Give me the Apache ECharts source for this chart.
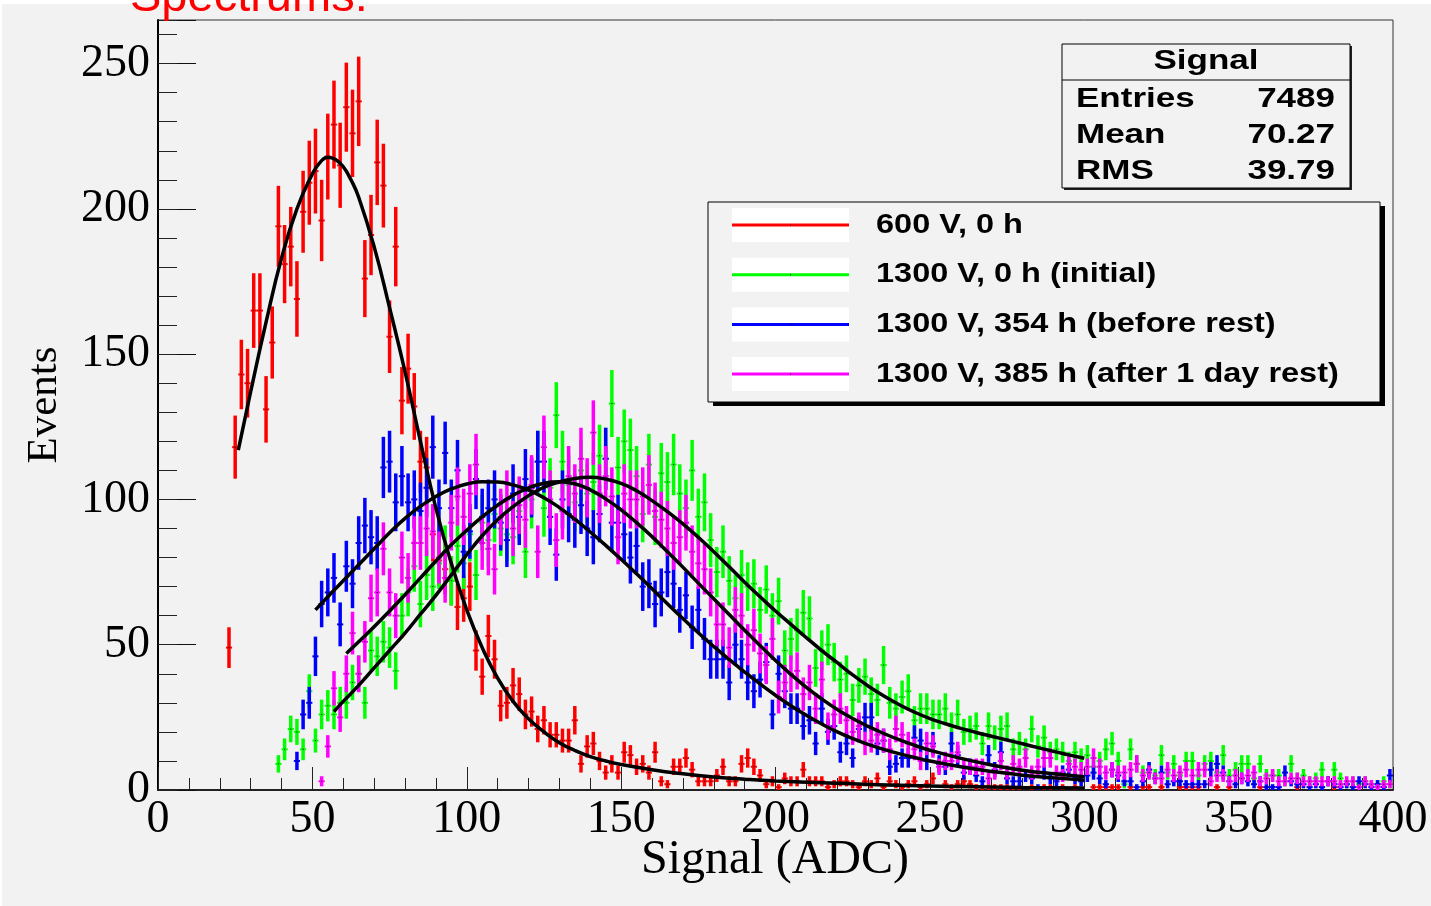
<!DOCTYPE html>
<html>
<head>
<meta charset="utf-8">
<script src="https://cdn.jsdelivr.net/npm/echarts@6/dist/echarts.min.js"></script>
<style>
html, body { margin: 0; padding: 0; background: #fff; }
#chart { width: 1431px; height: 906px; }
</style>
</head>
<body>
<div id="chart"></div>
<script>
// histogram bins: 2 ADC wide, centres at odd values, first centre given per series
var binWidth = 2;

var redStart = 23;
var redCounts = [49,118,143,140,165,165,131,154,194,181,187,169,199,209,213,196,218,229,215,235,226,237,176,191,216,208,156,187,134,145,
  132,113,111,88,79,76,72,63,66,70,48,39,53,45,29,30,36,33,26,27,21,24,19,19,17,17,24,9,15,16,
  10,6,9,6,13,12,8,9,6,13,3,2,8,8,11,7,3,3,3,5,8,3,3,9,11,8,5,2,3,1,
  4,3,3,7,3,3,3,1,2,3,3,2,1,3,2,4,1,3,2,1,2,3,1,2,4,0,2,1,2,3,
  2,1,1,1,1,1,1,1,1,0,1,0,1,1,0,1,0,1,0,0,1,1,1,1,1,0,1,0,1,1,
  0,1,0,0,1,1,1,1,0,0,1,0,1,0,0,0,0,1,0,0,0,0,0,1,0,0,0,0,0,1];

var greenStart = 39;
var greenCounts = [9,14,21,20,14,34,17,26,29,26,30,30,37,40,30,48,46,51,49,41,60,68,77,64,74,70,78,82,72,84,
  78,88,74,92,86,95,90,88,87,96,82,100,113,97,104,129,113,105,99,110,102,106,115,114,133,111,120,117,108,95,
  112,94,109,106,112,102,97,110,94,99,86,75,82,72,66,74,70,71,62,69,60,65,48,52,55,61,59,42,48,50,
  44,38,40,31,36,39,33,31,43,30,28,32,34,24,28,28,26,26,28,22,26,20,21,22,16,22,18,21,22,14,
  16,14,21,15,18,13,14,13,10,13,11,12,8,10,14,16,10,2,14,9,6,7,5,12,6,9,5,10,10,5,
  9,10,6,12,5,7,9,9,4,9,5,5,5,3,9,4,5,3,4,7,3,7,4,2,3,2,3,2,2,3,2];

var blueStart = 45;
var blueCounts = [10,26,30,46,64,68,73,57,77,71,85,91,87,85,111,113,99,108,99,100,96,104,118,97,116,97,110,82,89,107,
  94,97,100,92,86,102,94,107,104,113,113,94,81,100,95,93,98,90,87,95,114,92,92,88,80,84,70,71,64,68,
  75,71,62,67,56,62,52,45,45,45,37,50,45,37,34,38,44,26,40,34,28,28,22,24,16,28,20,22,13,16,
  11,21,25,25,16,17,8,9,11,11,18,17,10,16,9,8,16,12,6,8,5,3,12,7,13,4,3,3,5,4,
  1,6,4,3,6,7,4,3,5,6,4,2,7,5,3,3,1,3,7,4,6,2,3,3,2,2,2,2,7,9,
  6,3,2,4,3,2,3,1,1,1,6,3,2,2,1,2,1,3,2,1,2,1,3,2,1,2,1,5];

var magentaStart = 53;
var magentaCounts = [3,15,35,25,40,54,40,51,66,68,83,68,60,80,73,85,85,90,89,80,73,92,101,94,102,112,85,83,76,94,
  100,90,98,93,105,82,118,100,86,96,108,102,114,104,123,102,108,101,87,102,100,100,101,105,96,93,90,85,87,92,
  82,78,76,68,57,57,49,62,60,50,55,47,43,52,32,37,40,41,33,37,28,38,22,26,28,24,20,22,16,17,
  19,17,14,21,19,16,14,10,16,15,8,10,10,13,8,8,8,8,4,6,10,6,9,8,11,6,8,11,11,6,
  5,9,8,7,8,11,8,6,7,6,6,7,9,5,6,4,4,7,5,6,7,5,7,7,3,5,5,3,5,4,
  5,6,3,4,5,3,3,4,4,3,3,3,3,3,3,2,3,3,1,3,2,1,2,2];

// fitted curves as [signal, events]
var fitRed = [[26,117],[30,137],[35,161],[40,183],[45,200],[50,212],[52.5,216],[55,217.8],[57.5,217],[60,214.5],[62.5,210],
  [65,204],[70,187],[75,166],[80,144],[85,120],[90,97],[95,78],[100,62],[105,49],[110,38.5],[115,30.5],[120,24.5],
  [125,20],[130,16.3],[135,13.6],[140,11.5],[145,10],[150,8.8],[160,7],[170,5.6],[180,4.5],[190,3.7],[200,3.1],
  [220,2.3],[240,1.6],[260,1.2],[280,0.9],[300,0.7]];
var fitGreen = [[57,27],[60,30.5],[65,36],[70,42],[75,48],[80,54],[85,60.5],[90,67],[95,74],[100,81],[105,87.5],[110,93],
  [115,97.5],[120,101.3],[125,104.2],[130,106],[135,107.2],[140,107.6],[145,107],[150,105.5],[155,103],[160,99.6],
  [165,95.8],[170,91.6],[175,87],[180,82],[185,76.8],[190,71.5],[195,66.5],[200,61.6],[205,57],[210,52.4],[215,48],
  [220,43.8],[225,39.6],[230,35.8],[235,32.4],[240,29.4],[245,26.8],[250,24.6],[255,22.8],[260,21.2],[265,19.8],
  [270,18.5],[275,17.2],[280,15.9],[285,14.6],[290,13.3],[295,12.1],[300,10.9]];
var fitBlue = [[51,62],[55,66.5],[60,72],[65,77.5],[70,83],[75,88.5],[80,93.5],[85,97.6],[90,101],[95,103.6],[100,105.3],
  [105,106.1],[110,106],[115,105],[120,103.2],[125,100.6],[130,97.2],[135,93.2],[140,88.8],[145,84.2],[150,79.4],
  [155,74.4],[160,69.3],[165,64.1],[170,59],[175,54.1],[180,49.4],[185,44.9],[190,40.6],[195,36.5],[200,32.6],
  [205,29],[210,25.7],[215,22.7],[220,20],[225,17.7],[230,15.7],[235,14],[240,12.5],[245,11.2],[250,10],[260,8],
  [270,6.4],[280,5.1],[290,4.2],[300,3.4]];
var fitMagenta = [[61,47],[65,51],[70,56.2],[75,61.6],[80,67.2],[85,73],[90,78.8],[95,84.4],[100,89.4],[105,94],[110,98],
  [115,101.4],[120,104],[125,105.6],[130,106.1],[135,105.4],[140,103.3],[145,100.2],[150,96.4],[155,92],[160,87.2],
  [165,82],[170,76.7],[175,71.2],[180,65.8],[185,60.4],[190,55],[195,49.7],[200,44.6],[205,39.8],[210,35.3],
  [215,31.3],[220,27.7],[225,24.6],[230,21.9],[235,19.5],[240,17.3],[245,15.4],[250,13.7],[260,10.9],[270,8.6],
  [280,6.8],[290,5.6],[300,4.6]];

var legendNames = ['600 V, 0 h', '1300 V, 0 h (initial)', '1300 V, 354 h (before rest)', '1300 V, 385 h (after 1 day rest)'];
var statTitle = 'Signal';
var statLabels = ['Entries', 'Mean', 'RMS'];
var statValues = ['7489', '70.27', '39.79'];

var colors = ['#ff0000', '#00ff00', '#0000ff', '#ff00ff'];
var bg = '#f2f2f2';

function toPoints(start, counts) {
  var pts = [];
  for (var i = 0; i < counts.length; i++) {
    if (counts[i] > 0) pts.push([start + i * binWidth, counts[i]]);
  }
  return pts;
}

// ROOT style error bars: sqrt(N) vertically, bin width horizontally, tiny black marker
function histRenderer(color) {
  return function(params, api) {
    var x = api.value(0), n = api.value(1);
    var e = Math.sqrt(n);
    var c = api.coord([x, n]);
    var top = api.coord([x, n + e]);
    var bot = api.coord([x, Math.max(n - e, 0)]);
    var half = api.size([binWidth, 0])[0] / 2;
    return {
      type: 'group',
      children: [
        { type: 'line', shape: { x1: c[0], y1: top[1], x2: c[0], y2: bot[1] }, style: { stroke: color, lineWidth: 3.5 } },
        { type: 'line', shape: { x1: c[0] - half, y1: c[1], x2: c[0] + half, y2: c[1] }, style: { stroke: color, lineWidth: 2 } },
        { type: 'rect', shape: { x: c[0] - 0.5, y: c[1] - 0.5, width: 1, height: 1 }, style: { fill: '#000' } }
      ]
    };
  };
}

var hists = [
  toPoints(redStart, redCounts),
  toPoints(greenStart, greenCounts),
  toPoints(blueStart, blueCounts),
  toPoints(magentaStart, magentaCounts)
];
var fits = [fitRed, fitGreen, fitBlue, fitMagenta];

var series = [];
for (var i = 0; i < hists.length; i++) {
  series.push({
    name: legendNames[i],
    type: 'custom',
    clip: true,
    z: 2 + i,
    renderItem: histRenderer(colors[i]),
    encode: { x: 0, y: 1 },
    data: hists[i]
  });
}
for (var i = 0; i < fits.length; i++) {
  series.push({
    type: 'line',
    smooth: 0.5,
    showSymbol: false,
    silent: true,
    z: 10,
    lineStyle: { color: '#000', width: 3.5 },
    data: fits[i]
  });
}

var serif = '"Liberation Serif", "DejaVu Serif", serif';
var sans = '"Liberation Sans", Arial, sans-serif';

// legend and stats box drawn as graphics
var graphics = [
  { type: 'rect', z: 0, shape: { x: 0, y: 0, width: 1431, height: 4 }, style: { fill: '#fff' } },
  { type: 'rect', z: 0, shape: { x: 0, y: 0, width: 2, height: 906 }, style: { fill: '#fff' } },
  { type: 'text', z: 100, x: 130, y: -2, style: { text: 'Spectrums:', font: '47px ' + sans, fill: '#ff0000',
      textAlign: 'left', textVerticalAlign: 'middle', align: 'left', verticalAlign: 'middle' } },
  { type: 'text', z: 100, x: 775, y: 860, style: { text: 'Signal (ADC)', font: '48px ' + serif, fill: '#000',
      textAlign: 'center', textVerticalAlign: 'middle', align: 'center', verticalAlign: 'middle' } },
  { type: 'text', z: 100, x: 45, y: 405, rotation: Math.PI / 2, style: { text: 'Events', font: '43px ' + serif, fill: '#000',
      textAlign: 'center', textVerticalAlign: 'middle', align: 'center', verticalAlign: 'middle' } },
  // stats box
  { type: 'rect', z: 100, shape: { x: 1064, y: 46, width: 288, height: 144 }, style: { fill: '#222' } },
  { type: 'rect', z: 101, shape: { x: 1062, y: 44, width: 288, height: 144 }, style: { fill: bg, stroke: '#000', lineWidth: 1 } },
  { type: 'line', z: 102, shape: { x1: 1062, y1: 80, x2: 1350, y2: 80 }, style: { stroke: '#000', lineWidth: 1 } },
  { type: 'text', z: 102, x: 1206, y: 61, scaleX: 1.25, style: { text: statTitle, font: 'bold 28px ' + sans, fill: '#000',
      textAlign: 'center', textVerticalAlign: 'middle', align: 'center', verticalAlign: 'middle' } },
  // legend box
  { type: 'rect', z: 100, shape: { x: 713, y: 206, width: 672, height: 200 }, style: { fill: '#000' } },
  { type: 'rect', z: 101, shape: { x: 708, y: 202, width: 672, height: 200 }, style: { fill: bg, stroke: '#000', lineWidth: 1 } }
];
for (var i = 0; i < statLabels.length; i++) {
  var sy = 99 + i * 36;
  graphics.push({ type: 'text', z: 102, x: 1076, y: sy, scaleX: 1.25, style: { text: statLabels[i], font: 'bold 28px ' + sans,
    fill: '#000', textAlign: 'left', textVerticalAlign: 'middle', align: 'left', verticalAlign: 'middle' } });
  graphics.push({ type: 'text', z: 102, x: 1335, y: sy, scaleX: 1.25, style: { text: statValues[i], font: 'bold 28px ' + sans,
    fill: '#000', textAlign: 'right', textVerticalAlign: 'middle', align: 'right', verticalAlign: 'middle' } });
}
for (var i = 0; i < legendNames.length; i++) {
  var ly = 225 + i * 49.7;
  graphics.push({ type: 'rect', z: 102, shape: { x: 732, y: ly - 17, width: 117, height: 34 }, style: { fill: '#fff' } });
  graphics.push({ type: 'line', z: 103, shape: { x1: 732, y1: ly, x2: 849, y2: ly }, style: { stroke: colors[i], lineWidth: 3 } });
  graphics.push({ type: 'rect', z: 104, shape: { x: 790, y: ly - 0.5, width: 1, height: 1 }, style: { fill: '#000' } });
  graphics.push({ type: 'text', z: 102, x: 876, y: ly, scaleX: 1.16, style: { text: legendNames[i], font: 'bold 28px ' + sans,
    fill: '#000', textAlign: 'left', textVerticalAlign: 'middle', align: 'left', verticalAlign: 'middle' } });
}

var chart = echarts.init(document.getElementById('chart'));
var option = {
  backgroundColor: bg,
  animation: false,
  grid: { left: 158, right: 38, top: 20, bottom: 116, show: true, borderColor: '#333', borderWidth: 1, backgroundColor: 'transparent' },
  xAxis: [
    {
      type: 'value', min: 0, max: 400, interval: 50,
      axisLine: { show: true, onZero: false, lineStyle: { color: '#222', width: 2 } },
      axisTick: { inside: true, length: 23, lineStyle: { color: '#222', width: 1 } },
      axisLabel: { fontFamily: serif, fontSize: 46, color: '#000', margin: 7 },
      splitLine: { show: false }
    },
    {
      type: 'value', min: 0, max: 400, interval: 10, position: 'bottom',
      axisLine: { show: false },
      axisTick: { inside: true, length: 12, lineStyle: { color: '#222', width: 1 } },
      axisLabel: { show: false },
      splitLine: { show: false }
    }
  ],
  yAxis: [
    {
      type: 'value', min: 0, max: 265, interval: 50,
      axisLine: { show: true, onZero: false, lineStyle: { color: '#000', width: 2 } },
      axisTick: { inside: true, length: 38, lineStyle: { color: '#111', width: 1 } },
      axisLabel: { fontFamily: serif, fontSize: 46, color: '#000', margin: 8,
        formatter: function(v) { return v % 50 === 0 ? String(v) : ''; } },
      splitLine: { show: false }
    },
    {
      type: 'value', min: 0, max: 265, interval: 10, position: 'left',
      axisLine: { show: false },
      axisTick: { inside: true, length: 19, lineStyle: { color: '#222', width: 1 } },
      axisLabel: { show: false },
      splitLine: { show: false }
    }
  ],
  series: series,
  graphic: graphics
};
chart.setOption(option);
</script>
</body>
</html>
